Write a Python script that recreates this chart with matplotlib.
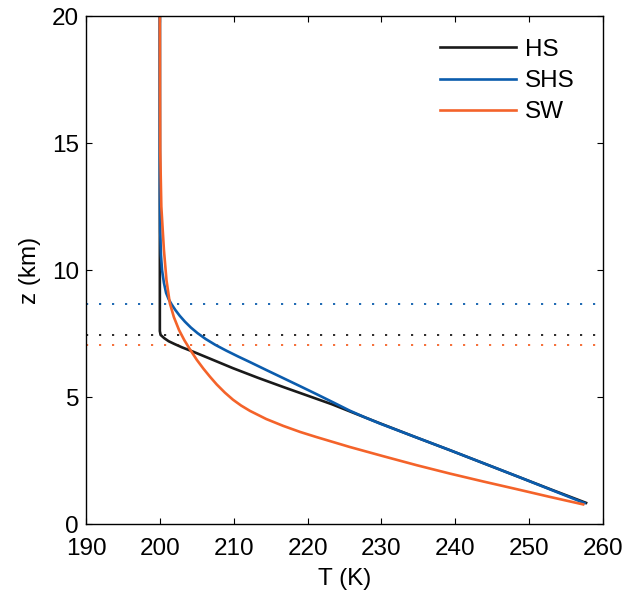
import numpy as np
import matplotlib
matplotlib.use("Agg")
import matplotlib.pyplot as plt

plt.rcParams['font.family'] = ['Liberation Sans', 'DejaVu Sans']

# perfis de temperatura (T em K, z em km)
hs_T = [200.0, 200.0, 200.1, 200.6, 201.2, 202.0, 203.0, 204.5, 207.0, 209.9, 213.3, 216.7,
        220.0, 223.3, 226.5, 229.8, 234.5, 239.3, 243.9, 248.5, 253.1, 257.7]
hs_z = [20.0, 7.6, 7.45, 7.32, 7.2, 7.09, 6.96, 6.79, 6.49, 6.14, 5.76, 5.40,
        5.06, 4.72, 4.35, 3.97, 3.44, 2.91, 2.39, 1.87, 1.35, 0.84]

shs_T = [200.0, 200.0, 200.01, 200.05, 200.15, 200.3, 200.55, 200.85, 201.2, 201.6, 202.1, 202.7,
         203.4, 204.2, 205.1, 206.2, 207.5, 209.0, 210.6, 212.2, 214.4, 216.7, 219.0, 221.2,
         223.5, 225.7, 227.8, 229.8, 234.5, 239.3, 248.5, 257.5]
shs_z = [20.0, 15.0, 13.0, 11.5, 10.6, 10.0, 9.5, 9.1, 8.85, 8.65, 8.43, 8.2,
         7.97, 7.74, 7.52, 7.29, 7.06, 6.83, 6.6, 6.38, 6.07, 5.75, 5.43, 5.12,
         4.79, 4.47, 4.2, 3.96, 3.44, 2.91, 1.87, 0.83]

sw_T = [200.0, 200.02, 200.05, 200.2, 200.55, 200.9, 201.35, 201.9, 202.6, 203.3, 204.1, 205.0,
        205.9, 206.8, 207.7, 208.8, 209.9, 211.0, 212.2, 214.4, 216.7, 219.0, 221.2, 225.7,
        230.2, 234.8, 239.3, 243.8, 248.3, 252.8, 257.3]
sw_z = [20.0, 17.0, 14.7, 12.5, 10.8, 9.6, 8.7, 8.15, 7.64, 7.25, 6.87, 6.47,
        6.12, 5.80, 5.50, 5.18, 4.90, 4.67, 4.46, 4.14, 3.87, 3.63, 3.43, 3.04,
        2.68, 2.32, 1.99, 1.68, 1.38, 1.075, 0.78]

# alturas da tropopausa (linhas pontilhadas)
trop_hs = 7.46
trop_shs = 8.68
trop_sw = 7.04

cor_hs = '#1a1a1a'
cor_shs = '#0b5cad'
cor_sw = '#f4632a'

fig = plt.figure(figsize=(6.23, 5.93), dpi=100)
ax = fig.add_axes([0.138, 0.116, 0.830, 0.857])

pont = (0, (1.2, 6))
ax.axhline(trop_shs, color=cor_shs, lw=1.3, linestyle=pont)
ax.axhline(trop_hs, color=cor_hs, lw=1.3, linestyle=pont)
ax.axhline(trop_sw, color=cor_sw, lw=1.3, linestyle=pont)

ax.plot(hs_T, hs_z, color=cor_hs, lw=1.9, label='HS')
ax.plot(shs_T, shs_z, color=cor_shs, lw=1.9, label='SHS')
ax.plot(sw_T, sw_z, color=cor_sw, lw=1.9, label='SW')

ax.set_xlim(190, 260)
ax.set_ylim(0, 20)
ax.set_xticks(np.arange(190, 261, 10))
ax.set_yticks(np.arange(0, 21, 5))
ax.tick_params(direction='in', length=4.5, width=0.8, top=True, right=True, labelsize=17.5)
ax.tick_params(axis='x', pad=10)
ax.tick_params(axis='y', pad=5)
for s in ax.spines.values():
    s.set_linewidth(1.0)

ax.set_xlabel('T (K)', fontsize=17.5, labelpad=6)
ax.set_ylabel('z (km)', fontsize=17.5, labelpad=8)

ax.legend(loc='upper right', bbox_to_anchor=(1.0, 1.01), frameon=False, fontsize=17.5,
          handlelength=3.1, handletextpad=0.4, labelspacing=0.38, borderaxespad=0.75)

fig.savefig('out.png', dpi=100)
